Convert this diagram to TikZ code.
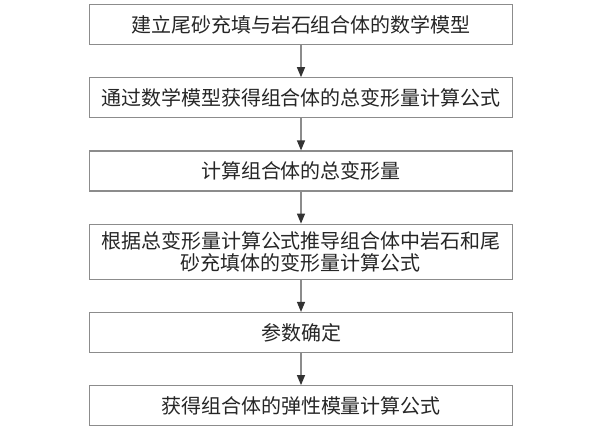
\documentclass[tikz,border=0pt]{standalone}
\usepackage{fontspec}
\newfontfamily\cjk{Noto Sans CJK SC}
\usetikzlibrary{positioning,arrows.meta}

\begin{document}
\begin{tikzpicture}[node distance=16pt,
	every node/.style={font=\cjk\fontsize{10}{11.2}\selectfont, text=black!85},
	stepbox/.style={draw=black!45, line width=0.6pt, minimum width=211pt, minimum height=20pt,
		inner ysep=3.5pt, text width=205pt, align=center},
	flow/.style={draw=black!45, line width=0.6pt, -{Triangle[length=5pt,width=4pt,color=black!80]}}]

% Canvas
\useasboundingbox (0,0) rectangle (300pt,-214.5pt);

% Create the nodes
\node[stepbox, anchor=north] (model) at (150.5pt,-2pt) {建立尾砂充填与岩石组合体的数学模型};
\node[stepbox, below=of model] (formula) {通过数学模型获得组合体的总变形量计算公式};
\node[stepbox, below=of formula] (total) {计算组合体的总变形量};
\node[stepbox, below=of total] (derive) {根据总变形量计算公式推导组合体中岩石和尾\\砂充填体的变形量计算公式};
\node[stepbox, below=of derive] (param) {参数确定};
\node[stepbox, below=of param] (modulus) {获得组合体的弹性模量计算公式};

% Connect them
\draw[flow] (model) -- (formula);
\draw[flow] (formula) -- (total);
\draw[flow] (total) -- (derive);
\draw[flow] (derive) -- (param);
\draw[flow] (param) -- (modulus);

\end{tikzpicture}
\end{document}
